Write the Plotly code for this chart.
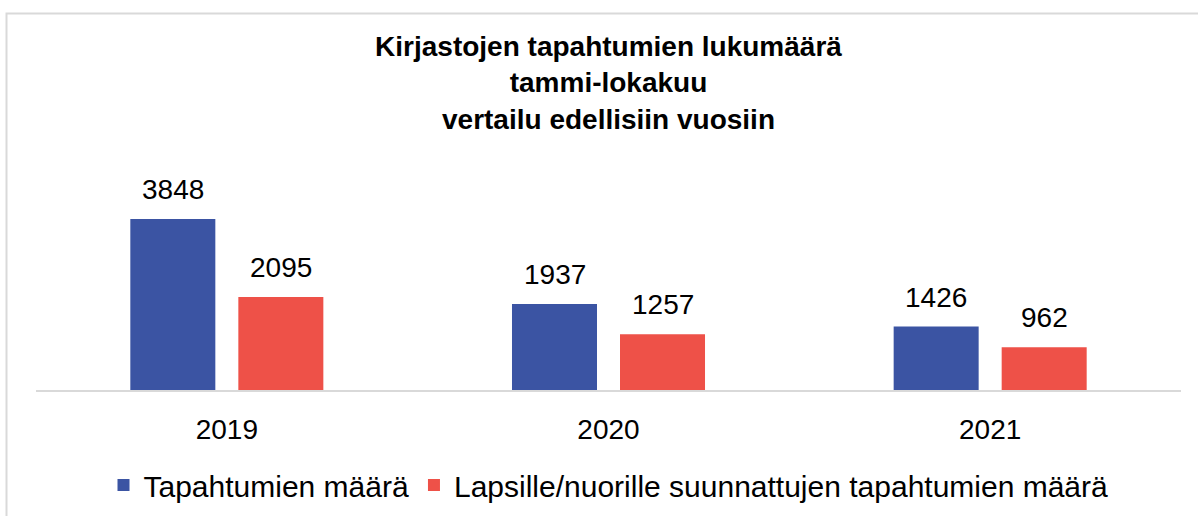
import plotly.graph_objects as go

years = ["2019", "2020", "2021"]
series_names = ["Tapahtumien määrä", "Lapsille/nuorille suunnattujen tapahtumien määrä"]
events_total = [3848, 1937, 1426]
events_children = [2095, 1257, 962]
colors = ["#3B54A3", "#EE5148"]

title_lines = ["Kirjastojen tapahtumien lukumäärä", "tammi-lokakuu", "vertailu edellisiin vuosiin"]

FONT = "Liberation Sans, Arial, sans-serif"
FS = 28

fig = go.Figure()
for name, vals, col in zip(series_names, [events_total, events_children], colors):
    fig.add_trace(go.Bar(x=years, y=vals, name=name, marker=dict(color=col, line=dict(width=0))))

# data labels above bars (Excel-style spacing); x given as category index
annotations = []
offsets = [-54, 54]
for vals, off in zip([events_total, events_children], offsets):
    for i, v in enumerate(vals):
        annotations.append(dict(x=i, y=v, xref="x", yref="y", text=str(v), showarrow=False,
                                xshift=off, yshift=12, yanchor="bottom",
                                font=dict(family=FONT, size=FS, color="#000000")))

fig.update_layout(
    width=1198, height=516,
    margin=dict(l=36, r=17, t=150, b=126),
    paper_bgcolor="white", plot_bgcolor="white",
    font=dict(family=FONT, size=FS, color="#000000"),
    title=dict(text="<b>" + "<br>".join(title_lines) + "</b>", x=0.5, xref="paper", xanchor="center",
               y=1 - 56 / 516, yref="container", yanchor="middle",
               font=dict(family=FONT, size=28, color="#000000")),
    barmode="group", bargap=0.434, bargroupgap=0.213,
    showlegend=True,
    legend=dict(orientation="h", x=0.5, xanchor="center", yref="container", y=1 - 485 / 516,
                yanchor="middle", font=dict(family=FONT, size=30, color="#000000"), itemwidth=30),
    annotations=annotations,
    shapes=[dict(type="rect", xref="paper", yref="paper",
                 x0=(6.5 - 36) / 1145, x1=1.2, y0=(390 - 13.5) / 240, y1=-1.0,
                 line=dict(color="#d9d9d9", width=2), fillcolor="rgba(0,0,0,0)", layer="below")],
)
fig.update_xaxes(type="category", range=[-0.5, 2.5], showline=True, linecolor="#d9d9d9", linewidth=2,
                 ticks="", ticklabelstandoff=13, tickfont=dict(family=FONT, size=FS, color="#000000"),
                 showgrid=False, automargin=False)
fig.update_yaxes(range=[0, 5400], visible=False, showgrid=False, zeroline=False, automargin=False)

fig.write_html("out.html", config={"displayModeBar": False},
               post_script="document.body.style.margin='0';")
